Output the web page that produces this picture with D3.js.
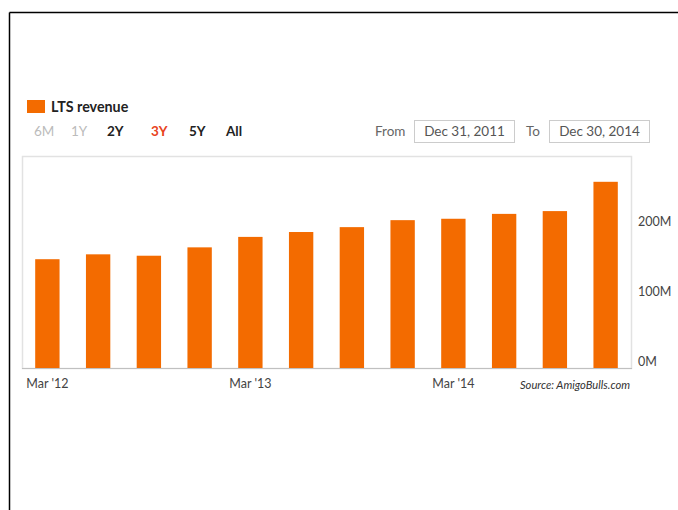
<!DOCTYPE html>
<html>
<head>
<meta charset="utf-8">
<script src="https://cdn.jsdelivr.net/npm/d3@7/dist/d3.min.js"></script>
<style>
  html, body { margin: 0; padding: 0; background: #fff; }
  svg { display: block; }
  text { font-family: Lato, "Liberation Sans", sans-serif; }
</style>
</head>
<body>
<svg id="chart" width="678" height="510"></svg>
<script>
// ---- data ----
const categories = ["Mar '12","Jun '12","Sep '12","Dec '12","Mar '13","Jun '13","Sep '13","Dec '13","Mar '14","Jun '14","Sep '14","Dec '14"];
const revenue = [156, 163, 161, 173, 188, 195, 202, 212, 214, 221, 225, 267]; // millions
const xTickLabels = ["Mar '12", "Mar '13", "Mar '14"];
const yTicks = [0, 100, 200];
const rangeButtons = ["6M", "1Y", "2Y", "3Y", "5Y", "All"];
const fromDate = "Dec 31, 2011";
const toDate = "Dec 30, 2014";
const seriesName = "LTS revenue";
const sourceText = "Source: AmigoBulls.com";

const svg = d3.select("#chart");
const orange = "#f36b00";

// outer black frame (top and left)
svg.append("line").attr("x1", 9.5).attr("x2", 678).attr("y1", 12.5).attr("y2", 12.5)
  .attr("stroke", "#000").attr("stroke-width", 1.5);
svg.append("line").attr("x1", 9.5).attr("x2", 9.5).attr("y1", 12.5).attr("y2", 510)
  .attr("stroke", "#000").attr("stroke-width", 1.5);

// plot area
const plot = {left: 22, right: 631, top: 156, bottom: 368};
const x = d3.scaleBand().domain(categories).range([plot.left, plot.right])
  .paddingInner(0.52).paddingOuter(0.26);
const y = d3.scaleLinear().domain([0, 304]).range([plot.bottom, plot.top]);

svg.append("rect")
  .attr("x", plot.left + 0.5).attr("y", plot.top + 0.5)
  .attr("width", plot.right - plot.left).attr("height", plot.bottom - plot.top)
  .attr("fill", "none").attr("stroke", "#e2e2e2").attr("stroke-width", 1.5);

// bars
svg.append("g").selectAll("rect").data(revenue).join("rect")
  .attr("x", (d, i) => x(categories[i]))
  .attr("width", x.bandwidth())
  .attr("y", d => y(d))
  .attr("height", d => y(0) - y(d))
  .attr("fill", orange);

// x axis line
svg.append("line").attr("x1", plot.left).attr("x2", plot.right + 1)
  .attr("y1", plot.bottom + 0.5).attr("y2", plot.bottom + 0.5)
  .attr("stroke", "#c0c0c0").attr("stroke-width", 1.2);

// x axis labels (via axis generator)
const xAxis = d3.axisBottom(x).tickValues(xTickLabels).tickSize(0).tickPadding(0);
const gx = svg.append("g").attr("transform", `translate(0,${plot.bottom + 11})`).call(xAxis);
gx.select(".domain").remove();
gx.selectAll("text").attr("font-size", 12.5).attr("fill", "#444")
  .attr("font-family", "Lato, sans-serif");

// y axis labels on right (via axis generator)
const yAxis = d3.axisRight(y).tickValues(yTicks).tickSize(0).tickPadding(0)
  .tickFormat(d => d + "M");
const gy = svg.append("g").attr("transform", `translate(${plot.right + 7},-7)`).call(yAxis);
gy.select(".domain").remove();
gy.selectAll("text").attr("font-size", 12.5).attr("fill", "#444")
  .attr("font-family", "Lato, sans-serif");

// source text
svg.append("text").attr("x", 630).attr("y", 389).attr("text-anchor", "end")
  .attr("font-size", 11.2).attr("font-style", "italic").attr("fill", "#333")
  .text(sourceText);

// legend
svg.append("rect").attr("x", 27).attr("y", 100).attr("width", 18).attr("height", 13).attr("fill", orange);
svg.append("text").attr("x", 51).attr("y", 111.5).attr("font-size", 14.3).attr("font-weight", "bold")
  .attr("fill", "#222").text(seriesName);

// range selector buttons
const btnX = [34, 71, 107, 151, 189, 226];
const btnColor = ["#bbbbbb", "#bbbbbb", "#222", "#e8431d", "#222", "#222"];
svg.append("g").selectAll("text").data(rangeButtons).join("text")
  .attr("x", (d, i) => btnX[i]).attr("y", 136)
  .attr("font-size", 13.5).attr("font-weight", (d, i) => i < 2 ? "normal" : "bold")
  .attr("fill", (d, i) => btnColor[i]).text(d => d);

// date inputs
svg.append("text").attr("x", 375).attr("y", 136).attr("font-size", 13.5).attr("fill", "#666").text("From");
svg.append("rect").attr("x", 414.5).attr("y", 120.5).attr("width", 100).attr("height", 22)
  .attr("fill", "#fff").attr("stroke", "#ccc");
svg.append("text").attr("x", 464.5).attr("y", 136).attr("text-anchor", "middle").attr("font-size", 13.5)
  .attr("fill", "#555").text(fromDate);
svg.append("text").attr("x", 526).attr("y", 136).attr("font-size", 13.5).attr("fill", "#666").text("To");
svg.append("rect").attr("x", 549.5).attr("y", 120.5).attr("width", 100).attr("height", 22)
  .attr("fill", "#fff").attr("stroke", "#ccc");
svg.append("text").attr("x", 599.5).attr("y", 136).attr("text-anchor", "middle").attr("font-size", 13.5)
  .attr("fill", "#555").text(toDate);
</script>
</body>
</html>
